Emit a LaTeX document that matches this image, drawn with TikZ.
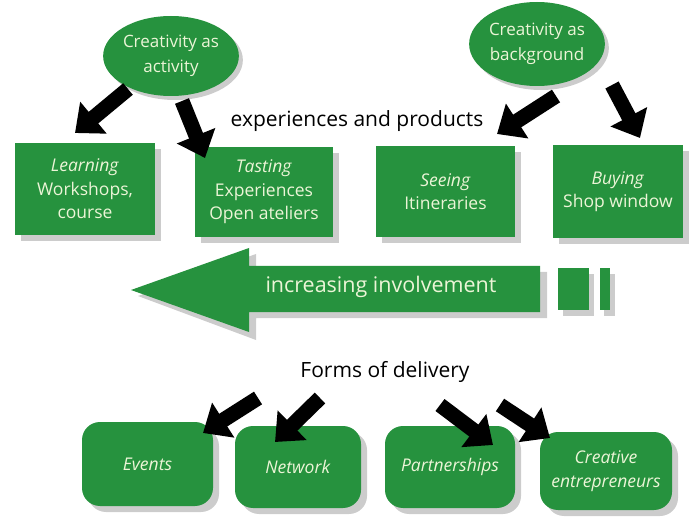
\documentclass[tikz,border=0pt]{standalone}
\usepackage{fontspec}
\setmainfont{Open Sans}
\usetikzlibrary{arrows.meta,shapes.geometric,shadows}
\definecolor{gr}{RGB}{38,146,62}
\definecolor{txt}{RGB}{236,245,215}
\definecolor{shd}{RGB}{204,204,204}
\tikzset{
  shad/.style={drop shadow={shadow xshift=6pt,shadow yshift=-6pt,fill=shd,opacity=1}},
  box/.style={shad,fill=gr,draw=none,text=txt,minimum width=139pt,minimum height=90pt,
    align=center,inner sep=0pt,font=\fontsize{17.5}{23.5}\selectfont},
  rbox/.style={box,rounded corners=18pt,minimum width=130pt,minimum height=82pt},
  oval/.style={ellipse,fill=gr,draw=none,text=txt,align=center,inner sep=0pt,
    drop shadow={shadow xshift=4pt,shadow yshift=-4pt,fill=shd,opacity=1},
    font=\fontsize{17}{25}\selectfont},
  blk/.style={line width=15pt,-{Triangle[length=24pt,width=40pt]}},
  lbl/.style={font=\fontsize{21}{24}\selectfont,text=black,inner sep=0pt}
}
\begin{document}
\begin{tikzpicture}[x=1pt,y=-1pt]
\useasboundingbox (0,0) rectangle (689,524);
% ovals
\node[oval,minimum width=122pt,minimum height=80pt] (act) at (171,56) {Creativity as\\activity};
\node[oval,minimum width=124pt,minimum height=84pt] (bg) at (537,44) {Creativity as\\background};
% label
\node[lbl] (exp) at (357,121) {experiences and products};
% top boxes
\node[box,minimum width=140pt,minimum height=92pt] (learn) at (85,189) {\textit{Learning}\\Workshops,\\course};
\node[box,minimum width=138pt] (taste) at (264,192) {\textit{Tasting}\\Experiences\\Open ateliers};
\node[box,minimum width=139pt,minimum height=91pt] (see) at (445.5,191.5) {\textit{Seeing}\\Itineraries};
\node[box,minimum width=130pt,minimum height=93pt] (buy) at (618,191.5) {\textit{Buying}\\Shop window};
% arrow ends
\coordinate (a1s) at (128,89);  \coordinate (a1e) at (75,133);
\coordinate (a2s) at (182,101); \coordinate (a2e) at (205,158);
\coordinate (a3s) at (556,96);  \coordinate (a3e) at (497,134);
\coordinate (a4s) at (612,85);  \coordinate (a4e) at (640,138);
\draw[blk] (a1s) -- (a1e);
\draw[blk] (a2s) -- (a2e);
\draw[blk] (a3s) -- (a3e);
\draw[blk] (a4s) -- (a4e);
% big arrow
\fill[shd] (138,296) -- (256,254) -- (256,272) -- (547,272) -- (547,318) -- (256,318) -- (256,340) -- cycle;
\fill[gr] (131,290) -- (249,248) -- (249,266) -- (540,266) -- (540,312) -- (249,312) -- (249,332) -- cycle;
\fill[shd] (563,274) rectangle (594,316);
\fill[shd] (604,274) rectangle (615,316);
\fill[gr] (558,268) rectangle (589,310);
\fill[gr] (600,268) rectangle (610,310);
\node[font=\fontsize{21.5}{24}\selectfont,text=txt,inner sep=0pt] (inv) at (381,287) {increasing involvement};
% forms
\node[lbl] (forms) at (385,372) {Forms of delivery};
% bottom boxes
\node[rbox,minimum width=131pt,minimum height=84pt] (ev) at (147.5,464) {\textit{Events}};
\node[rbox,minimum width=126pt] (net) at (298,467) {\textit{Network}};
\node[rbox,minimum width=130pt] (part) at (450,467) {\textit{Partnerships}};
\node[rbox,minimum width=132pt,minimum height=78pt] (cre) at (606,471) {\textit{Creative}\\\textit{entrepreneurs}};
\coordinate (b1s) at (258,398); \coordinate (b1e) at (203,433);
\coordinate (b2s) at (320,398); \coordinate (b2e) at (275,442);
\coordinate (b3s) at (440,405); \coordinate (b3e) at (493,445);
\coordinate (b4s) at (500,405); \coordinate (b4e) at (550,438);
\draw[blk] (b1s) -- (b1e);
\draw[blk] (b2s) -- (b2e);
\draw[blk] (b3s) -- (b3e);
\draw[blk] (b4s) -- (b4e);
\end{tikzpicture}
\end{document}
